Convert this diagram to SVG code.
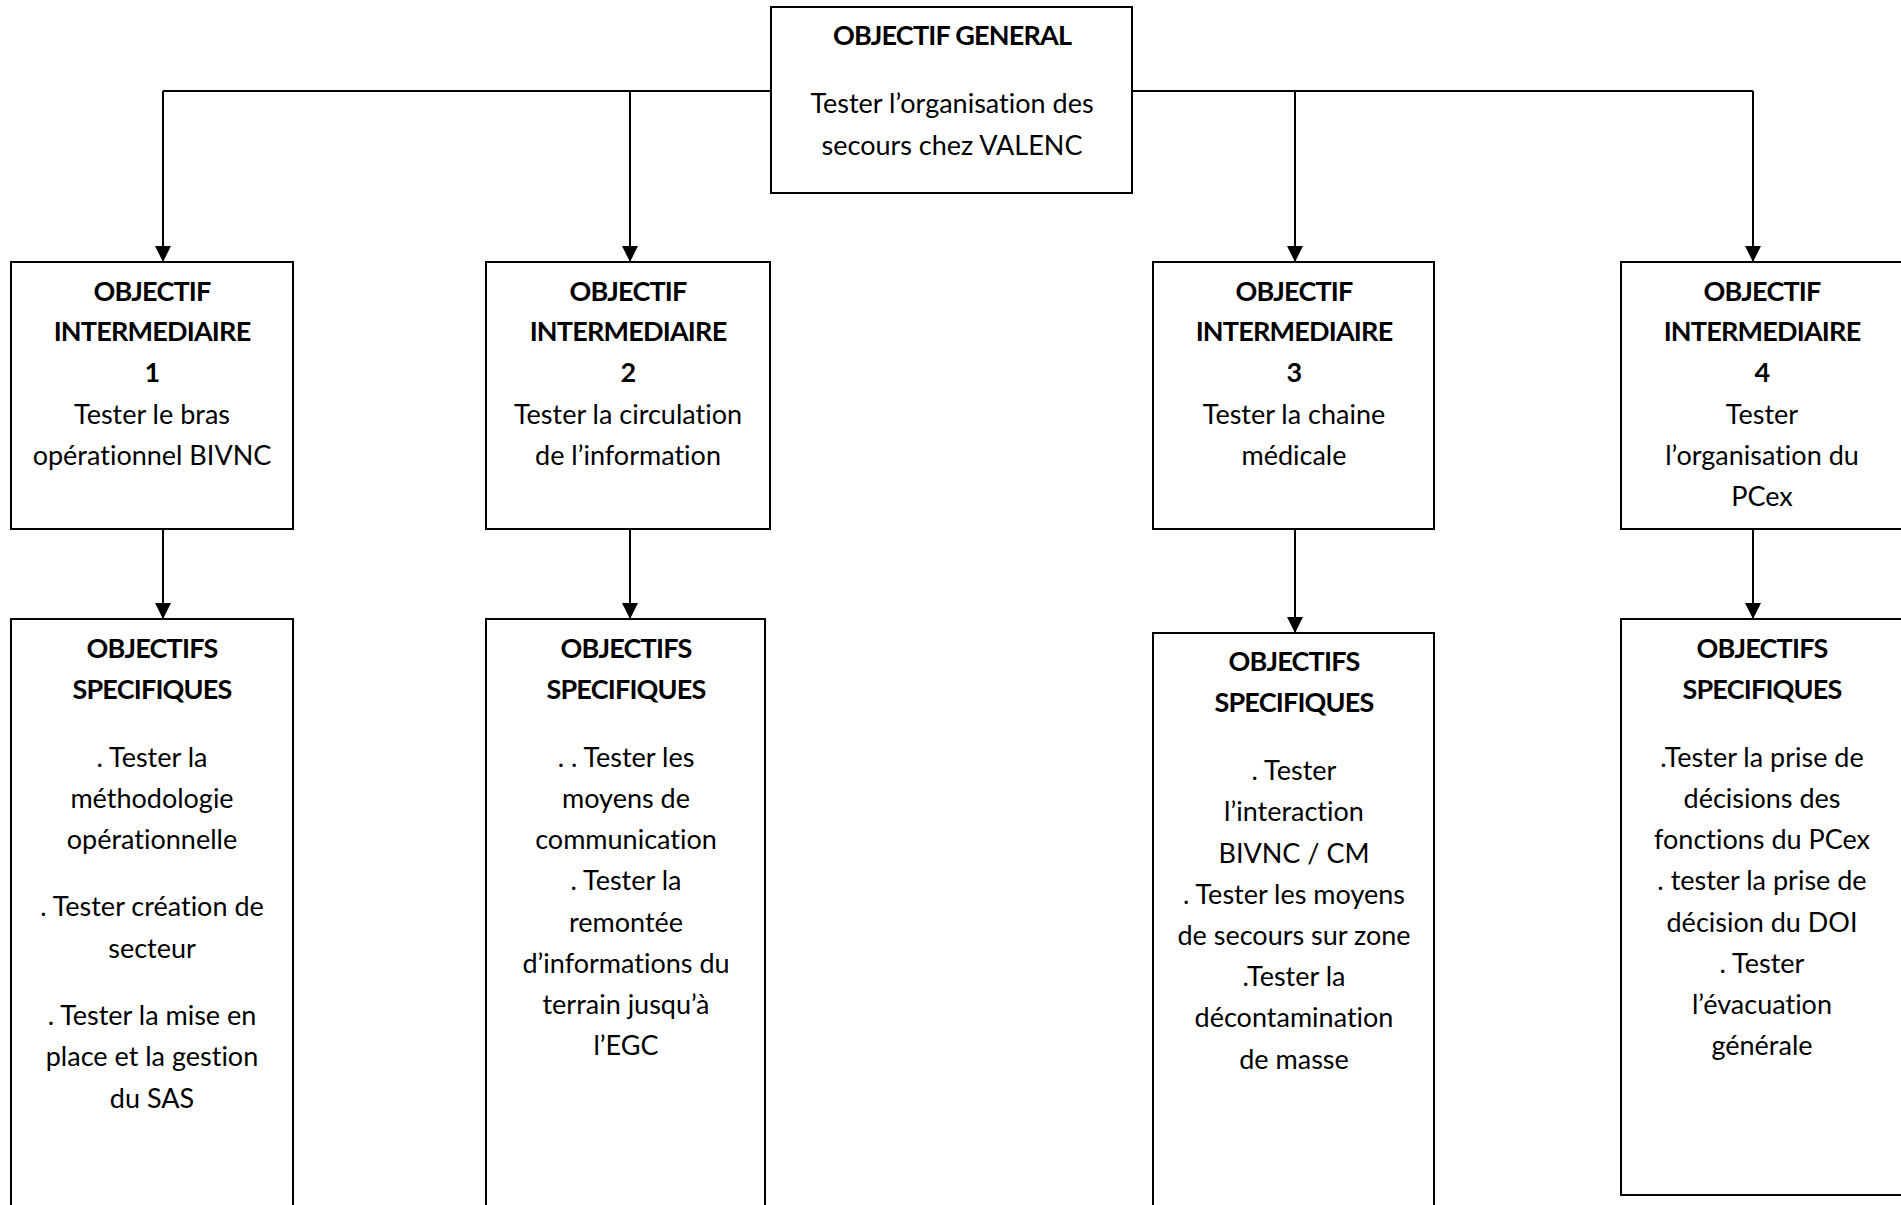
<svg xmlns="http://www.w3.org/2000/svg" width="1901" height="1205" viewBox="0 0 1901 1205">
<style>
.box{fill:#fff;stroke:#000;stroke-width:2}
.ln{fill:none;stroke:#000;stroke-width:2}
text{font-family:Lato,"Liberation Sans",sans-serif;font-size:27px;text-anchor:middle;fill:#000;font-variant-ligatures:none}
.b{font-weight:bold;letter-spacing:-0.8px}
</style>
<defs>
<marker id="arr" markerUnits="userSpaceOnUse" markerWidth="16" markerHeight="18" refX="16" refY="8" orient="auto" viewBox="0 0 16 16">
<path d="M0,0 L16,8 L0,16 Z" fill="#000"/>
</marker>
</defs>
<rect width="1901" height="1205" fill="#fff"/>
<g id="connectors">
<path class="ln" d="M163,91 H771 M1132,91 H1753"/>
<path class="ln" d="M163,91 V262" marker-end="url(#arr)"/>
<path class="ln" d="M630,91 V262" marker-end="url(#arr)"/>
<path class="ln" d="M1295,91 V262" marker-end="url(#arr)"/>
<path class="ln" d="M1753,91 V262" marker-end="url(#arr)"/>
<path class="ln" d="M163,529 V619" marker-end="url(#arr)"/>
<path class="ln" d="M630,529 V619" marker-end="url(#arr)"/>
<path class="ln" d="M1295,529 V633" marker-end="url(#arr)"/>
<path class="ln" d="M1753,529 V619" marker-end="url(#arr)"/>
</g>
<g id="general">
<rect class="box" x="771" y="7" width="361" height="186"/>
<text x="952" y="45" class="b">OBJECTIF GENERAL</text>
<text x="952" y="113">Tester l’organisation des</text>
<text x="952" y="155">secours chez VALENC</text>
</g>
<g id="inter1">
<rect class="box" x="11" y="262" width="282" height="267"/>
<text x="152" y="301" class="b">OBJECTIF</text>
<text x="152" y="341" class="b">INTERMEDIAIRE</text>
<text x="152" y="382" class="b">1</text>
<text x="152" y="424">Tester le bras</text>
<text x="152" y="465">opérationnel BIVNC</text>
</g>
<g id="inter2">
<rect class="box" x="486" y="262" width="284" height="267"/>
<text x="628" y="301" class="b">OBJECTIF</text>
<text x="628" y="341" class="b">INTERMEDIAIRE</text>
<text x="628" y="382" class="b">2</text>
<text x="628" y="424">Tester la circulation</text>
<text x="628" y="465">de l’information</text>
</g>
<g id="inter3">
<rect class="box" x="1153" y="262" width="281" height="267"/>
<text x="1294" y="301" class="b">OBJECTIF</text>
<text x="1294" y="341" class="b">INTERMEDIAIRE</text>
<text x="1294" y="382" class="b">3</text>
<text x="1294" y="424">Tester la chaine</text>
<text x="1294" y="465">médicale</text>
</g>
<g id="inter4">
<rect class="box" x="1621" y="262" width="282" height="267"/>
<text x="1762" y="301" class="b">OBJECTIF</text>
<text x="1762" y="341" class="b">INTERMEDIAIRE</text>
<text x="1762" y="382" class="b">4</text>
<text x="1762" y="424">Tester</text>
<text x="1762" y="465">l’organisation du</text>
<text x="1762" y="506">PCex</text>
</g>
<g id="spec1">
<rect class="box" x="11" y="619" width="282" height="600"/>
<text x="152" y="658" class="b">OBJECTIFS</text>
<text x="152" y="699" class="b">SPECIFIQUES</text>
<text x="152" y="767">. Tester la</text>
<text x="152" y="808">méthodologie</text>
<text x="152" y="849">opérationnelle</text>
<text x="152" y="916">. Tester création de</text>
<text x="152" y="958">secteur</text>
<text x="152" y="1025">. Tester la mise en</text>
<text x="152" y="1066">place et la gestion</text>
<text x="152" y="1108">du SAS</text>
</g>
<g id="spec2">
<rect class="box" x="486" y="619" width="279" height="600"/>
<text x="626" y="658" class="b">OBJECTIFS</text>
<text x="626" y="699" class="b">SPECIFIQUES</text>
<text x="626" y="767">. . Tester les</text>
<text x="626" y="808">moyens de</text>
<text x="626" y="849">communication</text>
<text x="626" y="890">. Tester la</text>
<text x="626" y="932">remontée</text>
<text x="626" y="973">d’informations du</text>
<text x="626" y="1014">terrain jusqu’à</text>
<text x="626" y="1055">l’EGC</text>
</g>
<g id="spec3">
<rect class="box" x="1153" y="633" width="281" height="590"/>
<text x="1294" y="671" class="b">OBJECTIFS</text>
<text x="1294" y="712" class="b">SPECIFIQUES</text>
<text x="1294" y="780">. Tester</text>
<text x="1294" y="821">l’interaction</text>
<text x="1294" y="863">BIVNC / CM</text>
<text x="1294" y="904">. Tester les moyens</text>
<text x="1294" y="945">de secours sur zone</text>
<text x="1294" y="986">.Tester la</text>
<text x="1294" y="1027">décontamination</text>
<text x="1294" y="1069">de masse</text>
</g>
<g id="spec4">
<rect class="box" x="1621" y="619" width="282" height="576"/>
<text x="1762" y="658" class="b">OBJECTIFS</text>
<text x="1762" y="699" class="b">SPECIFIQUES</text>
<text x="1762" y="767">.Tester la prise de</text>
<text x="1762" y="808">décisions des</text>
<text x="1762" y="849">fonctions du PCex</text>
<text x="1762" y="890">. tester la prise de</text>
<text x="1762" y="932">décision du DOI</text>
<text x="1762" y="973">. Tester</text>
<text x="1762" y="1014">l’évacuation</text>
<text x="1762" y="1055">générale</text>
</g>
</svg>
